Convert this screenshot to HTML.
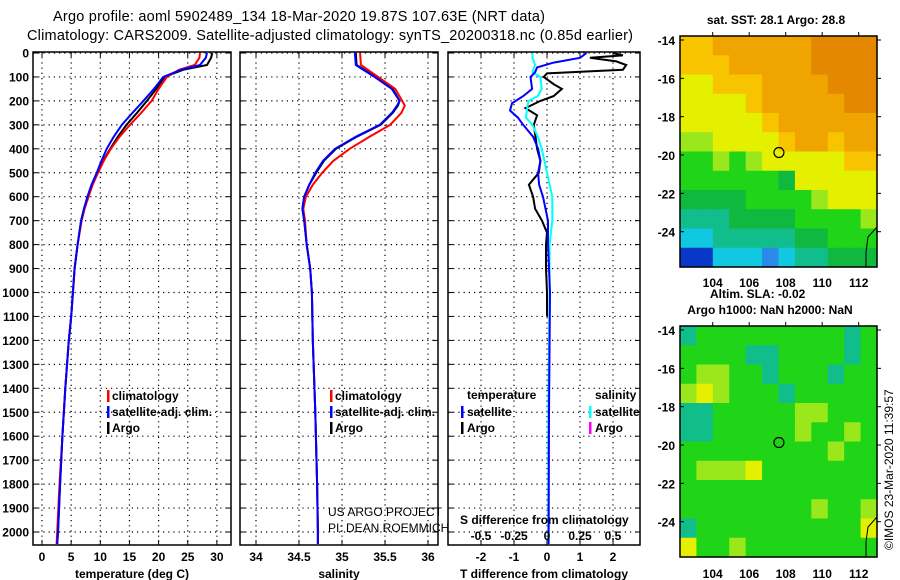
<!DOCTYPE html>
<html><head><meta charset="utf-8"><style>
body{margin:0;background:#fff;}
svg{display:block;font-family:"Liberation Sans",Arial,sans-serif;}
.t{font-weight:bold;font-size:12px;}
</style></head><body>
<svg id="s" width="900" height="580" viewBox="0 0 900 580">
<text x="53" y="21" font-size="14.5" textLength="492">Argo profile: aoml 5902489_134 18-Mar-2020 19.87S 107.63E (NRT data)</text>
<text x="27" y="40" font-size="14.5" textLength="606">Climatology: CARS2009. Satellite-adjusted climatology: synTS_20200318.nc (0.85d earlier)</text>
</svg>
<script>
// ---- data ----
const depthTicks=[0,100,200,300,400,500,600,700,800,900,1000,1100,1200,1300,1400,1500,1600,1700,1800,1900,2000];
const tempTicks=[0,5,10,15,20,25,30];
const salTicks=[34,34.5,35,35.5,36];
const tdiffTicks=[-2,-1,0,1,2];
const sdiffTicks=[-0.5,-0.25,0,0.25,0.5];
const tDepth=[0,20,50,70,100,150,200,250,300,350,400,450,500,550,600,650,700,800,900,1000,1100,1200,1400,1600,1800,2000,2050];
const tArgo=[29.2,29.0,28.3,24.2,21.0,19.6,18.0,16.3,14.5,13.0,11.7,10.5,9.4,8.5,7.8,7.2,6.7,6.1,5.6,5.3,5.0,4.6,4.0,3.5,3.1,2.75,2.6];
const tClim=[27.1,27.0,26.2,23.5,21.4,20.0,18.8,17.0,15.1,13.3,11.8,10.6,9.6,8.7,8.0,7.3,6.8,6.1,5.6,5.3,5.0,4.6,4.0,3.5,3.0,2.6,2.5];
const tSat=[28.3,28.1,27.1,23.8,20.8,19.2,17.4,15.5,13.7,12.3,11.1,10.2,9.4,8.5,7.8,7.2,6.7,6.1,5.6,5.3,5.0,4.6,4.0,3.5,3.1,2.75,2.6];
const sDepth=[0,50,100,150,200,220,250,300,350,400,450,500,550,600,650,700,800,900,1000,1200,1500,1800,2000,2050];
const sClim=[35.21,35.22,35.42,35.62,35.70,35.73,35.69,35.56,35.32,35.09,34.90,34.77,34.66,34.58,34.55,34.57,34.59,34.63,34.65,34.66,34.69,34.71,34.72,34.72];
const sSat=[35.15,35.16,35.38,35.58,35.67,35.64,35.58,35.44,35.16,34.92,34.78,34.69,34.62,34.56,34.54,34.56,34.59,34.63,34.65,34.66,34.69,34.71,34.72,34.72];
const sArgo=[35.16,35.17,35.39,35.59,35.67,35.65,35.59,35.45,35.17,34.93,34.79,34.70,34.62,34.56,34.54,34.56,34.59,34.63,34.65,34.66,34.69,34.71,34.72,34.72];
const dDepth=[0,10,20,35,50,70,85,100,130,150,180,200,230,260,300,350,400,450,500,550,600,650,700,750,800,900,1000,1100];
const dArgo=[2.0,2.3,1.3,2.1,2.4,2.3,0.0,-0.1,0.2,0.45,0.2,-0.2,-0.65,-0.3,-0.4,-0.35,-0.3,-0.2,-0.25,-0.55,-0.42,-0.36,-0.15,0.0,-0.03,-0.03,0.0,0.0];
const bDepth=[0,20,40,60,80,100,150,180,210,240,270,300,350,400,450,500,550,600,700,800,1000,1500,2050];
const dSatT=[1.2,1.0,0.2,-0.3,-0.36,-0.5,-0.45,-0.72,-1.06,-1.12,-0.88,-0.72,-0.42,-0.27,-0.2,-0.27,-0.24,-0.12,0.03,0.03,0.09,0.06,0.05];
const cDepth=[0,20,50,80,100,150,180,200,230,270,300,350,400,450,500,550,600,700,800,1000,1500,2050];
const dSatS=[-0.11,-0.11,-0.09,-0.11,-0.05,-0.04,-0.07,-0.14,-0.15,-0.16,-0.11,-0.07,-0.04,-0.02,0,0.02,0.04,0.04,0.02,0.02,0.01,0.01];
const lonTicks=[104,106,108,110,112];
const latTicks=[-14,-16,-18,-20,-22,-24];
const argoLon=107.63, argoLat=-19.87;

const S=document.getElementById('s');const NS='http://www.w3.org/2000/svg';
function mk(tag,at,par){const e=document.createElementNS(NS,tag);for(const k in at)e.setAttribute(k,at[k]);(par||S).appendChild(e);return e;}
const yD=d=>53+d*0.2395;
const Y0=52,Y1=545;

function panel(name,x0,x1,xs,ticks,fmt,showY,title){
  const g=mk('g',{});
  
  
  ticks.forEach(v=>{const x=xs(v);
    const l=mk('line',{x1:x,x2:x,y1:Y0,y2:Y1,stroke:'#000','stroke-width':1.2,'stroke-dasharray':'1.2,4'},g);
    
    mk('line',{x1:x,x2:x,y1:Y0,y2:Y0+5,stroke:'#000'},g);mk('line',{x1:x,x2:x,y1:Y1,y2:Y1-5,stroke:'#000'},g);
    const t=mk('text',{x:x,y:561,'text-anchor':'middle',class:'t'},g);t.textContent=fmt(v);
    
  });
  depthTicks.forEach(d=>{const y=yD(d);
    const l=mk('line',{x1:x0,x2:x1,y1:y,y2:y,stroke:'#000','stroke-width':1.2,'stroke-dasharray':'1.2,4'},g);
    
    mk('line',{x1:x0,x2:x0+5,y1:y,y2:y,stroke:'#000'},g);mk('line',{x1:x1,x2:x1-5,y1:y,y2:y,stroke:'#000'},g);
    if(showY){const t=mk('text',{x:29,y:y+4.5,'text-anchor':'end',class:'t'},g);t.textContent=d;
      }
  });
  const r=mk('rect',{x:x0,y:Y0,width:x1-x0,height:Y1-Y0,fill:'none',stroke:'#000','stroke-width':1.5},g);
  
  const tt=mk('text',{x:(x0+x1)/2,y:578,'text-anchor':'middle',class:'t'},g);tt.textContent=title;
  
}
function line(name,ds,vs,xs,col,w){
  const p=mk('polyline',{points:ds.map((d,i)=>xs(vs[i]).toFixed(1)+','+yD(d).toFixed(1)).join(' '),fill:'none',stroke:col,'stroke-width':w||2});
  
}
function txt(name,x,y,s,opt){const t=mk('text',Object.assign({x:x,y:y},opt||{class:'t'}));t.textContent=s;
  return t;}
function bar(name,x,y,col){const r=mk('rect',{x:x,y:y-10,width:2.5,height:12,fill:col});
  }

const xT=v=>42+v*5.83, xS=v=>256+(v-34)*86, xDT=v=>547+v*33, xDS=v=>547+v*132;
panel('temperature-panel',33,231,xT,tempTicks,v=>v,true,'temperature (deg C)');
panel('salinity-panel',240,438,xS,salTicks,v=>v,false,'salinity');
panel('difference-panel',448,640,xDT,tdiffTicks,v=>v,false,'T difference from climatology');

line('temp-argo-line',tDepth,tArgo,xT,'#000');
line('temp-clim-line',tDepth,tClim,xT,'#f00');
line('temp-sat-line',tDepth,tSat,xT,'#00f');
line('sal-argo-line',sDepth,sArgo,xS,'#000');
line('sal-clim-line',sDepth,sClim,xS,'#f00');
line('sal-sat-line',sDepth,sSat,xS,'#00f');
line('tdiff-argo-line',dDepth,dArgo,xDT,'#000');
line('sdiff-sat-line',cDepth,dSatS,xDS,'#0ff');
line('tdiff-sat-line',bDepth,dSatT,xDT,'#00f');

// legends
[[107,'#f00','climatology'],[107,'#00f','satellite-adj. clim.'],[107,'#000','Argo']].forEach((e,i)=>{bar('legend-marker',e[0],400+i*16,e[1]);txt('legend-entry',e[0]+5,400+i*16,e[2]);});
[[330,'#f00','climatology'],[330,'#00f','satellite-adj. clim.'],[330,'#000','Argo']].forEach((e,i)=>{bar('legend-marker',e[0],400+i*16,e[1]);txt('legend-entry',e[0]+5,400+i*16,e[2]);});
txt('legend-heading-temperature',467,399,'temperature');
bar('legend-marker',461,416,'#00f');txt('legend-entry',467,416,'satellite');
bar('legend-marker',461,432,'#000');txt('legend-entry',467,432,'Argo');
txt('legend-heading-salinity',595,399,'salinity');
bar('legend-marker',589,416,'#0ff');txt('legend-entry',595,416,'satellite');
bar('legend-marker',589,432,'#f0f');txt('legend-entry',595,432,'Argo');
txt('credit-line-1',328,516,'US ARGO PROJECT',{'font-size':12});
txt('credit-line-2',328,532,'PI: DEAN ROEMMICH',{'font-size':12});
const sdt=txt('s-diff-axis-title',460,524,'S difference from climatology');
sdiffTicks.forEach(v=>{txt('s-diff-tick-label',xDS(v),540,String(v),{class:'t','text-anchor':'middle'});});

// maps
const mx0=680,mx1=877;
const xL=v=>712.7+(v-104)*18.25;
const cmap={O:'#e48800',o:'#f0a400',y:'#f8c400',Y:'#e4f000',g:'#9ae81c',G:'#20d418',d:'#10b840',t:'#12bd8c',c:'#10c8e0',b:'#2a8ae8',B:'#0838c8'};
const grid1=['yyooooooOOOO','yyyoooooOOOO','YYyyyooooOOO','YYYYyoooooOO','YYYYYyoooooo','ggYYYYyooyoo','GGgGgYYYYYyy','GGGGGGdYYYYY','ddddGGGGgYYY','tttddddGGGGg','cctttttddGGG','BBcccbcttddd'];
const grid2=['tGGGGGGGGGtG','GGGGttGGGGtG','GggGGtGGGtGG','gYgGGGtGGGGG','ttGGGGGggGGG','ttGGGGGgGGgG','GGGGGGGGGgGG','GgggYGGGGGGG','GGGGGGGGGGGG','GGGGGGGGgGGg','tGGGGGGGGGGY','YGGgGGGGGGGG'];
function map(name,top,bot,grid,lonY){
  const g=mk('g',{});
  const yL=v=>top+4+(-14-v)*19.17;
  const cw=(mx1-mx0)/12,ch=(bot-top)/12;
  grid.forEach((row,r)=>row.split('').forEach((c,k)=>{mk('rect',{x:mx0+k*cw,y:top+r*ch,width:cw+0.6,height:ch+0.6,fill:cmap[c]},g);}));
  mk('path',{d:`M877 ${bot-40} L868 ${bot-30} L866 ${bot-15} L866 ${bot}`,fill:'none',stroke:'#000','stroke-width':1},g);
  mk('rect',{x:mx0,y:top,width:mx1-mx0,height:bot-top,fill:'none',stroke:'#000','stroke-width':1.5},g);
  latTicks.forEach(v=>{const y=yL(v);mk('line',{x1:mx0,x2:mx0+4,y1:y,y2:y,stroke:'#000'},g);mk('line',{x1:mx1,x2:mx1+4,y1:y,y2:y,stroke:'#000'},g);
    const t=mk('text',{x:675,y:y+5,'text-anchor':'end',class:'t','font-size':13},g);t.textContent=v;});
  lonTicks.forEach(v=>{const x=xL(v);mk('line',{x1:x,x2:x,y1:top,y2:top-4,stroke:'#000'},g);
    const t=mk('text',{x:x,y:lonY,'text-anchor':'middle',class:'t','font-size':13},g);t.textContent=v;});
  const c=mk('circle',{cx:xL(argoLon),cy:yL(argoLat),r:5,fill:'none',stroke:'#000','stroke-width':1.2},g);
  
}
map('sst-map',36,267,grid1,287);
map('sla-map',326,557,grid2,578);
txt('sst-map-title',776,24,'sat. SST: 28.1 Argo: 28.8',{class:'t','text-anchor':'middle'});
txt('sla-label',710,298,'Altim. SLA: -0.02');
txt('sla-map-title',770,314,'Argo h1000: NaN h2000: NaN',{class:'t','text-anchor':'middle'});
txt('imos-credit',893,550,'©IMOS 23-Mar-2020 11:39:57',{'font-size':12,transform:'rotate(-90 893 550)'});
</script>
</body></html>
